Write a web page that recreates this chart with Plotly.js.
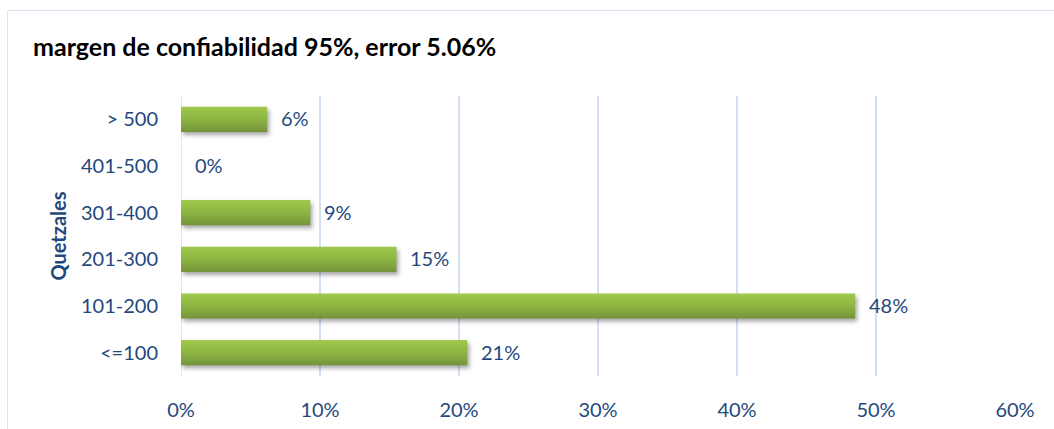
<!DOCTYPE html>
<html>
<head>
<meta charset="utf-8">
<script src="https://cdn.plot.ly/plotly-3.0.1.min.js"></script>
<style>
html,body{margin:0;padding:0;background:#fff;}
#chart{width:1054px;height:429px;}
</style>
</head>
<body>
<div id="chart"></div>
<script>
const categories = ["<=100", "101-200", "201-300", "301-400", "401-500", "> 500"];
const values = [0.206, 0.485, 0.155, 0.093, 0.0, 0.062];
const labels = ["21%", "48%", "15%", "9%", "0%", "6%"];
const xTickVals = [0, 0.1, 0.2, 0.3, 0.4, 0.5, 0.6];
const xTickText = ["0%", "10%", "20%", "30%", "40%", "50%", "60%"];
const titleText = "margen de confiabilidad 95%, error 5.06%";
const yTitle = "Quetzales";

const txtColor = "#1F497D";
const gridColor = "#D3E0F2";
const font = "Lato, 'Open Sans', sans-serif";

const trace = {
  type: "bar",
  orientation: "h",
  y: categories,
  x: values,
  width: 0.54,
  marker: {color: "#8DB543", line: {width: 0}},
  hoverinfo: "skip"
};

const annotations = categories.map((c, i) => ({
  x: values[i], y: c, xref: "x", yref: "y",
  text: labels[i], showarrow: false, xanchor: "left", yanchor: "middle",
  xshift: 12, yshift: 1,
  font: {family: font, size: 20, color: txtColor}
}));
annotations.push({
  xref: "paper", yref: "paper", x: -0.148, y: 0.5,
  text: "<b>" + yTitle + "</b>", showarrow: false, textangle: -90,
  xanchor: "center", yanchor: "middle",
  font: {family: font, size: 20, color: txtColor}
});

const layout = {
  width: 1054, height: 429,
  margin: {l: 181, r: 39, t: 96, b: 53},
  paper_bgcolor: "#fff", plot_bgcolor: "#fff",
  showlegend: false,
  title: {
    text: "<b>" + titleText + "</b>",
    x: 33/1054, xref: "container", xanchor: "left",
    y: 1 - 47/429, yref: "container", yanchor: "middle",
    font: {family: font, size: 25, color: "#000"}
  },
  xaxis: {
    range: [0, 0.6],
    tickvals: xTickVals, ticktext: xTickText,
    showgrid: true, gridcolor: gridColor, gridwidth: 1.5,
    zeroline: false, showline: false, ticks: "",
    ticklabelstandoff: 20,
    tickfont: {family: font, size: 20, color: txtColor},
    fixedrange: true
  },
  yaxis: {
    type: "category", categoryorder: "array", categoryarray: categories,
    range: [-0.5, 5.5],
    showgrid: false, zeroline: false, showline: false, ticks: "",
    ticklabelstandoff: 22,
    tickfont: {family: font, size: 20, color: txtColor},
    fixedrange: true
  },
  shapes: [{
    type: "line", xref: "x", yref: "paper", x0: 0, x1: 0, y0: 0, y1: 1,
    line: {color: gridColor, width: 1.5}, layer: "below"
  }, {
    type: "rect", xref: "paper", yref: "paper",
    x0: (7.5 - 181) / 834, x1: 1.1, y0: -0.4, y1: 1 + (96 - 10.5) / 280,
    line: {color: "#D9E4F2", width: 1}, fillcolor: "rgba(0,0,0,0)", layer: "below"
  }],
  annotations: annotations
};

Plotly.newPlot("chart", [trace], layout, {displayModeBar: false, staticPlot: true}).then(gd => {
  const svg = gd.querySelector("svg.main-svg");
  const ns = "http://www.w3.org/2000/svg";
  const defs = document.createElementNS(ns, "defs");
  const lg = document.createElementNS(ns, "linearGradient");
  lg.setAttribute("id", "barGrad");
  lg.setAttribute("x1", "0"); lg.setAttribute("y1", "0");
  lg.setAttribute("x2", "0"); lg.setAttribute("y2", "1");
  [["0", "#A0C94C"], ["0.5", "#8DB543"], ["1", "#75933A"]].forEach(([o, c]) => {
    const s = document.createElementNS(ns, "stop");
    s.setAttribute("offset", o); s.setAttribute("stop-color", c);
    lg.appendChild(s);
  });
  defs.appendChild(lg);
  svg.insertBefore(defs, svg.firstChild);
  gd.querySelectorAll(".trace.bars .point path").forEach(p => {
    p.style.fill = "url(#barGrad)";
    p.style.filter = "drop-shadow(2px 3px 2px rgba(0,0,0,0.35))";
  });
});
</script>
</body>
</html>
